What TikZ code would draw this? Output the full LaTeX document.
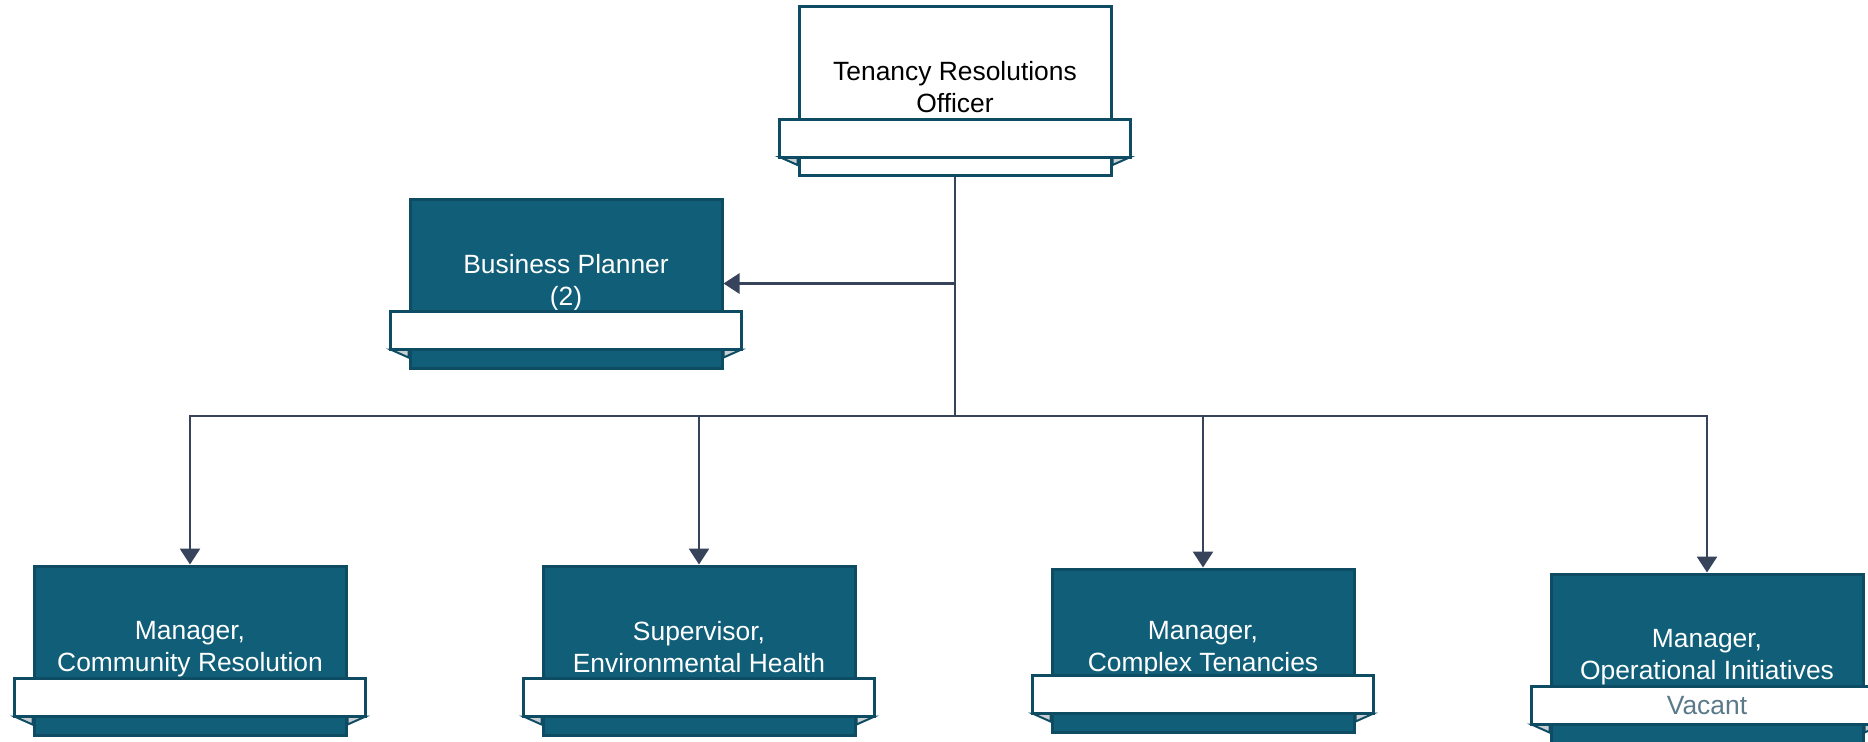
\documentclass[tikz,border=0pt]{standalone}
\usepackage{fontspec}
\setmainfont{Liberation Sans}
\usetikzlibrary{arrows.meta,positioning}
\definecolor{boxfill}{HTML}{105E78}
\definecolor{boxline}{HTML}{0E4C63}
\definecolor{linkcol}{HTML}{36435A}
\definecolor{vacantcol}{HTML}{5A7A8A}
\definecolor{tailcol}{HTML}{C9CED3}
\tikzset{
	orgbox/.style={draw=boxline, line width=1.5pt, fill=boxfill, text=white, align=center,
		minimum width=156pt, minimum height=84.5pt, inner sep=0pt, text depth=4pt,
		font=\fontsize{13.2}{16}\selectfont},
	headbox/.style={orgbox, fill=white, text=black},
	ribbon/.style={draw=boxline, line width=1.5pt, fill=white},
	tail/.style={draw=boxline, line width=1pt, fill=tailcol},
	link/.style={draw=linkcol, line width=1.4pt},
	tip/.style={-{Triangle[width=10pt,length=8pt]}},
}
\begin{document}
\begin{tikzpicture}[x=0.5pt, y=-0.5pt, line join=miter]
	%Khung hình.
	\useasboundingbox (0,0) rectangle (1868,741);
	%Các ô.
	\node[headbox] (head) at (955,91) {Tenancy Resolutions\\Officer};
	\node[orgbox] (plan) at (566,283.5) {Business Planner\\(2)};
	\node[orgbox] (comm) at (190,650.5) {Manager,\\Community Resolution};
	\node[orgbox] (envh) at (699,650.5) {Supervisor,\\Environmental Health};
	\node[orgbox, minimum width=151pt, minimum height=81.5pt] (cplx) at (1203,650.5) {Manager,\\Complex Tenancies};
	\node[orgbox] (oper) at (1707,658.5) {Manager,\\Operational Initiatives};
	%Dải trắng dưới ô.
	\foreach \n in {head,plan,comm,envh,cplx,oper}{
		\draw[tail] ([xshift=-9pt,yshift=10pt]\n.south west) -- ([yshift=10pt]\n.south west) -- ([yshift=6pt]\n.south west) -- cycle;
		\draw[tail] ([xshift=9pt,yshift=10pt]\n.south east) -- ([yshift=10pt]\n.south east) -- ([yshift=6pt]\n.south east) -- cycle;
		\draw[ribbon] ([xshift=-9pt,yshift=10pt]\n.south west) rectangle ([xshift=9pt,yshift=29pt]\n.south east);
	}
	\node[text=vacantcol, font=\fontsize{13.2}{16}\selectfont] (vac) at ([yshift=19.5pt]oper.south) {Vacant};
	%Đường nối.
	\coordinate (bus) at (955,416);
	\draw[link] (head.south) -- (bus);
	\draw[link, tip] (head.south |- plan.east) -- (plan.east);
	\foreach \n in {comm,envh,cplx,oper}
		\draw[link, tip] (bus) -| (\n.north);
\end{tikzpicture}
\end{document}
